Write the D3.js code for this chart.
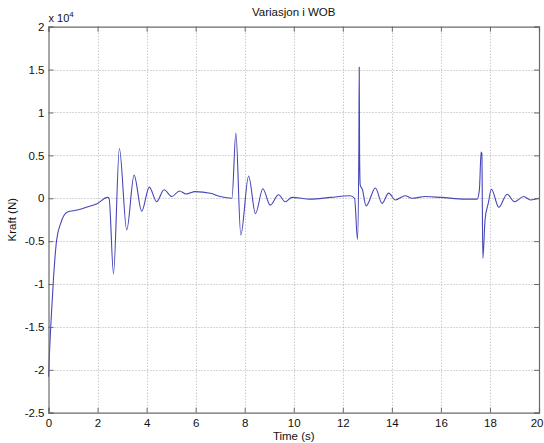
<!DOCTYPE html>
<html>
<head>
<meta charset="utf-8">
<script src="https://cdn.jsdelivr.net/npm/d3@7"></script>
<style>
  html, body { margin: 0; padding: 0; background: #fff; }
  svg { display: block; }
  text { font-family: "Liberation Sans", Arial, sans-serif; fill: #111; }
</style>
</head>
<body>
<svg id="chart" width="544" height="443"></svg>
<script>
// Time samples (s) and force (units of 1e4 N)
const time = [
  0.00, 0.04, 0.09, 0.20, 0.33, 0.50, 0.77, 1.18, 1.60, 2.00, 2.40, 2.47,
  2.65, 2.89, 3.19, 3.49, 3.80, 4.11, 4.41, 4.71, 5.03, 5.34, 5.61, 5.98,
  6.60, 7.00, 7.48, 7.64, 7.84, 8.16, 8.44, 8.74, 9.04, 9.38, 9.65, 9.93,
  10.67, 11.50, 12.30, 12.48, 12.60, 12.655, 12.67, 12.685, 12.71, 12.80,
  12.95, 13.33, 13.60, 13.87, 14.14, 14.55, 14.82, 15.37, 16.00, 17.00,
  17.48, 17.57, 17.64, 17.67, 17.71, 17.80, 17.93, 18.06, 18.36, 18.70,
  19.00, 19.38, 19.65, 20.00
];
const force = [
  -2.08, -1.80, -1.50, -0.95, -0.49, -0.29, -0.16, -0.137, -0.10, -0.06, 0.01, 0.00,
  -0.88, 0.58, -0.37, 0.27, -0.15, 0.13, -0.04, 0.10, 0.02, 0.085, 0.05, 0.077,
  0.058, 0.02, 0.00, 0.76, -0.43, 0.26, -0.18, 0.11, -0.08, 0.04, -0.04, 0.01,
  -0.01, 0.01, 0.03, 0.00, -0.48, 0.58, 1.53, 0.50, 0.155, 0.10,
  -0.09, 0.12, -0.06, 0.06, -0.02, 0.03, 0.00, 0.02, 0.01, -0.01,
  -0.01, 0.10, 0.54, 0.52, -0.70, -0.25, -0.06, 0.105, -0.105, 0.047,
  -0.04, 0.02, -0.02, 0.00
];
const xTicks = [0, 2, 4, 6, 8, 10, 12, 14, 16, 18, 20];
const yTicks = [-2.5, -2, -1.5, -1, -0.5, 0, 0.5, 1, 1.5, 2];

const svg = d3.select("#chart");
const plotLeft = 48.5, plotRight = 539, plotTop = 26.7, plotBottom = 412.7;

const x = d3.scaleLinear().domain([0, 20]).range([plotLeft, plotRight]);
const y = d3.scaleLinear().domain([-2.5, 2]).range([plotBottom, plotTop]);

const axisColor = "#6a6a6a";
const gridColor = "#b0b0b0";

// dotted grid
const grid = svg.append("g");
grid.selectAll("line.gx").data(xTicks.slice(1, -1)).join("line")
  .attr("x1", d => Math.round(x(d)) + 0.5).attr("x2", d => Math.round(x(d)) + 0.5)
  .attr("y1", plotTop).attr("y2", plotBottom)
  .attr("stroke", gridColor).attr("stroke-width", 1).attr("stroke-dasharray", "1,2");
grid.selectAll("line.gy").data(yTicks.slice(1, -1)).join("line")
  .attr("y1", d => Math.round(y(d)) + 0.5).attr("y2", d => Math.round(y(d)) + 0.5)
  .attr("x1", plotLeft).attr("x2", plotRight)
  .attr("stroke", gridColor).attr("stroke-width", 1).attr("stroke-dasharray", "1,2");

// data line
const pts = time.map((t, i) => [t, force[i]]);
const line = d3.line().x(d => x(d[0])).y(d => y(d[1])).curve(d3.curveMonotoneX);
svg.append("path").datum(pts).attr("d", line)
  .attr("fill", "none").attr("stroke", "#4646b8").attr("stroke-width", 1.1)
  .attr("stroke-linejoin", "round");

// axes (ticks point inward)
const xAxis = d3.axisBottom(x).tickValues(xTicks).tickSize(-5).tickPadding(6).tickFormat(d => String(d));
const yAxis = d3.axisLeft(y).tickValues(yTicks).tickSize(-5).tickPadding(4).tickFormat(d => String(d));

const gx = svg.append("g").attr("transform", `translate(0,${plotBottom})`).call(xAxis);
const gy = svg.append("g").attr("transform", `translate(${plotLeft},0)`).call(yAxis);
const gx2 = svg.append("g").attr("transform", `translate(0,${plotTop})`)
  .call(d3.axisTop(x).tickValues(xTicks).tickSize(-5).tickFormat(""));
const gy2 = svg.append("g").attr("transform", `translate(${plotRight},0)`)
  .call(d3.axisRight(y).tickValues(yTicks).tickSize(-5).tickFormat(""));

[gx, gy, gx2, gy2].forEach(g => {
  g.select(".domain").attr("stroke", axisColor).attr("stroke-width", 1.2);
  g.selectAll(".tick line").attr("stroke", axisColor);
  g.selectAll(".tick text").attr("font-size", 11.5)
    .attr("font-family", "'Liberation Sans', Arial, sans-serif").attr("fill", "#111");
});

// keep the last x label inside the page edge
gx.selectAll(".tick text").filter(d => d === xTicks[xTicks.length - 1])
  .attr("text-anchor", "end").attr("x", 544 - plotRight - 1);

// exponent marker
const ex = svg.append("text").attr("x", plotLeft).attr("y", 22).attr("font-size", 11);
ex.append("tspan").text("x 10");
ex.append("tspan").attr("dy", -5).attr("font-size", 8).text("4");

// title and axis labels
svg.append("text").attr("x", (plotLeft + plotRight) / 2).attr("y", 16)
  .attr("text-anchor", "middle").attr("font-size", 11.5).text("Variasjon i WOB");
svg.append("text").attr("x", (plotLeft + plotRight) / 2).attr("y", 440)
  .attr("text-anchor", "middle").attr("font-size", 11.5).text("Time (s)");
svg.append("text").attr("transform", `translate(16,${(plotTop + plotBottom) / 2}) rotate(-90)`)
  .attr("text-anchor", "middle").attr("font-size", 11.5).text("Kraft (N)");
</script>
</body>
</html>
